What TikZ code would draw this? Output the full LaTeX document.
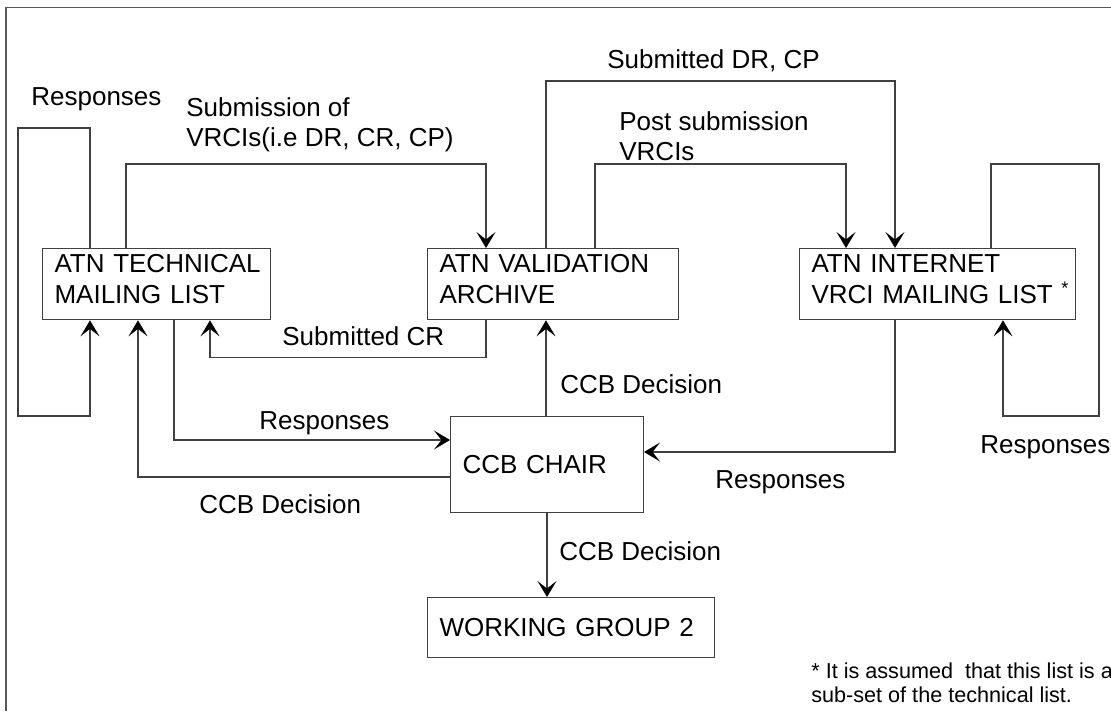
\documentclass[tikz,border=0pt]{standalone}
\usepackage{fontspec}
\setmainfont{Liberation Sans}
\usetikzlibrary{arrows.meta,calc}

\tikzset{
  box/.style={draw=black!75, line width=0.6pt, rectangle, anchor=north west, align=left, inner xsep=0.24cm, inner ysep=0pt},
  flow/.style={draw=black!75, line width=0.6pt, -{Stealth[length=0.32cm, width=0.38cm, inset=0.15cm, black]}},
  lbl/.style={inner sep=0pt, anchor=base west},
  lbltwo/.style={inner sep=0pt, anchor=north west, align=left},
}

\begin{document}
\begin{tikzpicture}[x=0.02cm, y=-0.02cm, font=\fontsize{14.8}{17.5}\selectfont]
  \useasboundingbox (0,0) rectangle (1111,711);
  \draw[black!65, line width=0.8pt] (6,711) |- (1111,7.5);

  % boxes
  \node[box, text width=4.08cm, text height=0.48cm, text depth=0.946cm] (tech) at (42,248) {\mbox{ATN TECHNICAL}\\MAILING LIST};
  \node[box, text width=4.54cm, text height=0.48cm, text depth=0.946cm] (valid) at (427,248) {\mbox{ATN VALIDATION}\\ARCHIVE};
  \node[box, text width=5.04cm, text height=0.48cm, text depth=0.946cm] (inet) at (799,248) {ATN INTERNET\\VRCI MAILING LIST\rlap{~\textsuperscript{*}}};
  \node[box, text width=3.38cm, minimum height=1.92cm] (ccb) at (450,416) {CCB CHAIR};
  \node[box, text width=5.26cm, minimum height=1.2cm] (wg) at (427,597) {WORKING GROUP 2};

  % connectors
  \draw[flow] ($(tech.north west)+(48,0)$) |- (18,128) |- (90,416) -- ($(tech.south west)+(48,0)$);
  \draw[flow] ($(tech.north west)+(84,0)$) -- ++(0,-84) -| ($(valid.north west)+(59,0)$);
  \draw[flow] ($(valid.south west)+(59,0)$) -- ++(0,37) -| ($(tech.south west)+(168,0)$);
  \draw[flow] ($(valid.north west)+(119,0)$) -- ++(0,-167) -| ($(inet.north west)+(96,0)$);
  \draw[flow] ($(valid.north west)+(168,0)$) -- ++(0,-84) -| ($(inet.north west)+(47,0)$);
  \draw[flow] ($(inet.north west)+(192,0)$) |- (1099,164) |- (1003,416) -- ($(inet.south west)+(204,0)$);
  \draw[flow] ($(tech.south west)+(132,0)$) |- ($(ccb.north west)+(0,24)$);
  \draw[flow] ($(ccb.north west)+(0,61)$) -| ($(tech.south west)+(96,0)$);
  \draw[flow] ($(ccb.north west)+(96,0)$) -- ($(valid.south west)+(119,0)$);
  \draw[flow] ($(inet.south west)+(96,0)$) |- ($(ccb.north east)+(0,36)$);
  \draw[flow] ($(ccb.south west)+(97,0)$) -- ($(wg.north west)+(120,0)$);

  % labels
  \node[lbl] (resptech) at (31,105) {Responses};
  \node[lbltwo] (submit) at (186,97) {Submission of\\VRCIs(i.e DR, CR, CP)};
  \node[lbl] (subcr) at (282,345) {Submitted CR};
  \node[lbl] (subdr) at (607,68) {Submitted DR, CP};
  \node[lbltwo] (post) at (619,111) {Post submission\\VRCIs};
  \node[lbl] (decvalid) at (560,393) {CCB Decision};
  \node[lbl] (respccb) at (259,429) {Responses};
  \node[lbl] (dectech) at (199,513) {CCB Decision};
  \node[lbl] (respinet) at (715,488) {Responses};
  \node[lbl] (respright) at (980,453) {Responses};
  \node[lbl] (decwg) at (559,560) {CCB Decision};
  \node[lbltwo, font=\fontsize{12.3}{14.2}\selectfont] (note) at (811,662) {* It is assumed~ that this list is a\\sub-set of the technical list.};
\end{tikzpicture}
\end{document}
